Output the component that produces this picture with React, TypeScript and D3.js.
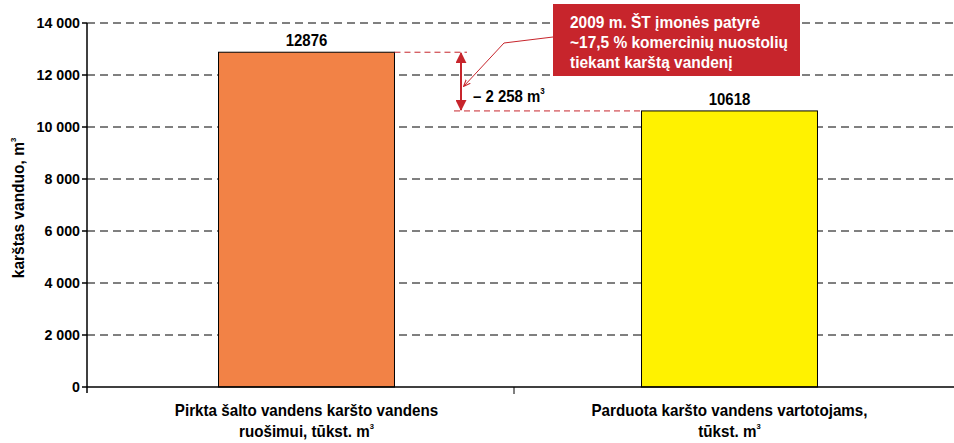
import React from "react";
import * as d3 from "d3";

const categories = ["Pirkta šalto vandens karšto vandens|ruošimui, tūkst. m", "Parduota karšto vandens vartotojams,|tūkst. m"];
const values = [12876, 10618];
const barColors = ["#f28246", "#fff200"];
const yTicks = [0, 2000, 4000, 6000, 8000, 10000, 12000, 14000];
const diffLabel = "– 2 258 m";
const noteLines = ["2009 m. ŠT įmonės patyrė", "~17,5 % komercinių nuostolių", "tiekant karštą vandenį"];
const yTitle = "karštas vanduo, m";

const W = 954, H = 443;
const FONT = "'Liberation Sans', Arial, sans-serif";
const RED = "#c7252c";

function T({ x, y, size, sx = 1, anchor = "start", fill = "#000", children }: any) {
  return (
    <g transform={`translate(${x},${y}) scale(${sx},1)`}>
      <text x={0} y={0} textAnchor={anchor} fontWeight="bold" fontSize={size} fill={fill}>{children}</text>
    </g>
  );
}

export default function App() {
  const left = 87, right = 954, top = 23, bottom = 387;
  const y = d3.scaleLinear().domain([0, 14000]).range([bottom, top]);
  const xAxis = d3.scaleBand().domain(categories).range([left, 941]);
  const xBar = d3.scaleBand().domain(categories).range([95, 941]).paddingInner(0.584).paddingOuter(0.292);
  const fmt = (v: number) => d3.format(",")(v).replace(/,/g, " ");

  const y1 = y(values[0]), y2 = y(values[1]);
  const b1r = xBar(categories[0])! + xBar.bandwidth();
  const b2l = xBar(categories[1])!;
  const arrowX = 461;
  const sup = (s: number) => <tspan fontSize={s} dy={-8}>3</tspan>;

  return (
    <svg width={W} height={H} style={{ position: "absolute", left: 0, top: 0, fontFamily: FONT }}>
      <defs>
        <marker id="ah" viewBox="0 0 10 10" refX="9" refY="5" markerWidth="5.5" markerHeight="5.5" orient="auto-start-reverse">
          <path d="M0,0 L10,5 L0,10 z" fill={RED} />
        </marker>
        <marker id="ah2" viewBox="0 0 10 10" refX="9" refY="5" markerWidth="7" markerHeight="7" orient="auto">
          <path d="M0,1 L10,5 L0,9" fill="none" stroke={RED} strokeWidth={1.5} />
        </marker>
      </defs>
      <rect width={W} height={H} fill="#fff" />
      {yTicks.filter(t => t > 0).map(t => (
        <line key={t} x1={left} x2={right} y1={y(t)} y2={y(t)} stroke="#000" strokeWidth={1} strokeDasharray="8,5" />
      ))}
      {categories.map((c, i) => (
        <g key={c}>
          <rect x={xBar(c)} y={y(values[i])} width={xBar.bandwidth()} height={bottom - y(values[i])} fill={barColors[i]} stroke="#000" strokeWidth={1} />
          <T x={xBar(c)! + xBar.bandwidth() / 2} y={y(values[i]) - 6} size={17} sx={0.88} anchor="middle">{values[i]}</T>
        </g>
      ))}
      <line x1={left} x2={left} y1={top} y2={bottom + 6} stroke="#000" strokeWidth={1.5} />
      <line x1={left} x2={right} y1={bottom} y2={bottom} stroke="#000" strokeWidth={1.5} />
      {yTicks.map(t => (
        <g key={t}>
          <line x1={left - 5} x2={left} y1={y(t)} y2={y(t)} stroke="#000" strokeWidth={1.5} />
          <T x={left - 7} y={y(t) + 5} size={15} sx={0.95} anchor="end">{fmt(t)}</T>
        </g>
      ))}
      {categories.map((c, i) => (
        <g key={"x" + c}>
          {i > 0 && <line x1={xAxis(c)} x2={xAxis(c)} y1={bottom} y2={bottom + 7} stroke="#000" strokeWidth={1} />}
          {c.split("|").map((ln, j, arr) => (
            <T key={j} x={xBar(c)! + xBar.bandwidth() / 2} y={416 + j * 21} size={16} sx={0.95} anchor="middle">
              {ln}{j === arr.length - 1 && sup(8)}
            </T>
          ))}
        </g>
      ))}
      <g transform={`translate(24,208) rotate(-90)`}>
        <text textAnchor="middle" fontWeight="bold" fontSize={16} transform="scale(0.97,1)">
          {yTitle}{sup(8)}
        </text>
      </g>
      <line x1={b1r} x2={arrowX + 6} y1={y1} y2={y1} stroke={RED} strokeDasharray="6,4" strokeWidth={1} />
      <line x1={arrowX - 7} x2={b2l} y1={y2} y2={y2} stroke={RED} strokeDasharray="6,4" strokeWidth={1} />
      <line x1={arrowX} x2={arrowX} y1={y1 + 1} y2={y2 - 1} stroke={RED} strokeWidth={2} markerStart="url(#ah)" markerEnd="url(#ah)" />
      <T x={473} y={102} size={17} sx={0.88}>{diffLabel}{sup(9)}</T>
      <polyline points={`553,37 504,43 464,86`} fill="none" stroke={RED} strokeWidth={1} markerEnd="url(#ah2)" />
      <rect x={553} y={4} width={247} height={72} fill={RED} />
      {noteLines.map((ln, i) => (
        <T key={i} x={570} y={28 + i * 20} size={17} sx={0.91} fill="#fff">{ln}</T>
      ))}
    </svg>
  );
}
